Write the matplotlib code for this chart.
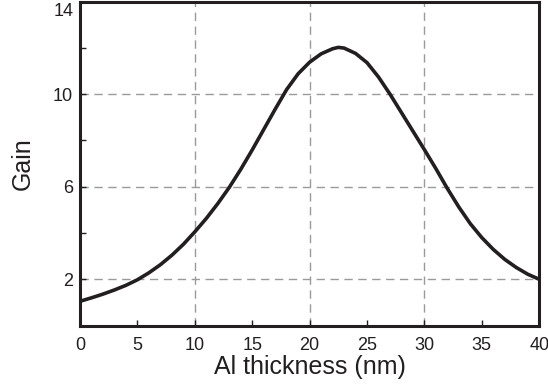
#!/usr/bin/env python
"""Gain versus Al thickness, single curve with dashed grid."""

import matplotlib
matplotlib.use('Agg')
import matplotlib.pyplot as plt

plt.rcParams['font.family'] = ['Liberation Sans', 'DejaVu Sans']

# values, one per nm (half step at the peak)
thickness = [0, 1, 2, 3, 4, 5, 6, 7, 8, 9, 10, 11, 12, 13, 14, 15, 16, 17,
             18, 19, 20, 21, 22, 22.5, 23, 24, 25, 26, 27, 28, 29, 30, 31,
             32, 33, 34, 35, 36, 37, 38, 39, 40]
gain = [1.05, 1.20, 1.36, 1.54, 1.74, 1.98, 2.28, 2.63, 3.04, 3.51, 4.05,
        4.63, 5.27, 5.97, 6.75, 7.59, 8.47, 9.35, 10.20, 10.88, 11.38, 11.74,
        11.96, 12.02, 11.99, 11.76, 11.36, 10.74, 10.0, 9.2, 8.4, 7.6, 6.78,
        5.92, 5.12, 4.40, 3.80, 3.29, 2.86, 2.51, 2.22, 2.0]

x_major = [0, 10, 20, 30, 40]
x_minor = [5, 15, 25, 35]
y_major = [2, 6, 10, 14]
y_minor = [4, 8, 12]

INK = '#231f20'
FS_TICK = 13

fig = plt.figure(figsize=(5.48, 3.89), dpi=100)
ax = fig.add_axes([0.146, 0.163, 0.838, 0.833])

ax.plot(thickness, gain, color=INK, lw=2.6, solid_joinstyle='round', zorder=3)

ax.set_xlim(0, 40)
ax.set_ylim(0, 14)

ax.set_xticks(x_major, [str(v) for v in x_major])
ax.set_xticks(x_minor, [str(v) for v in x_minor], minor=True)
ax.set_yticks(y_major, ['2', '6', '10', ''])
ax.set_yticks(y_minor, minor=True)
# top label sits below the axes edge, as in the original
ax.text(-0.014, 0.995, '14', transform=ax.transAxes, ha='right', va='top',
        fontsize=FS_TICK, color=INK)

ax.tick_params(which='both', direction='in', length=4, width=1, color=INK,
               labelcolor=INK, labelsize=FS_TICK)
ax.tick_params(axis='x', which='both', pad=8)
ax.tick_params(axis='y', which='both', pad=5)

ax.grid(True, which='major', linestyle=(0, (6, 4)), color='#9a9a9a', lw=1)
ax.set_axisbelow(True)

for sp in ax.spines.values():
    sp.set_linewidth(2.2)
    sp.set_color(INK)

ax.set_xlabel('Al thickness (nm)', fontsize=18, color=INK, labelpad=1)
ax.set_ylabel('Gain', fontsize=18, color=INK, labelpad=13)

fig.savefig('out.png', dpi=100)
